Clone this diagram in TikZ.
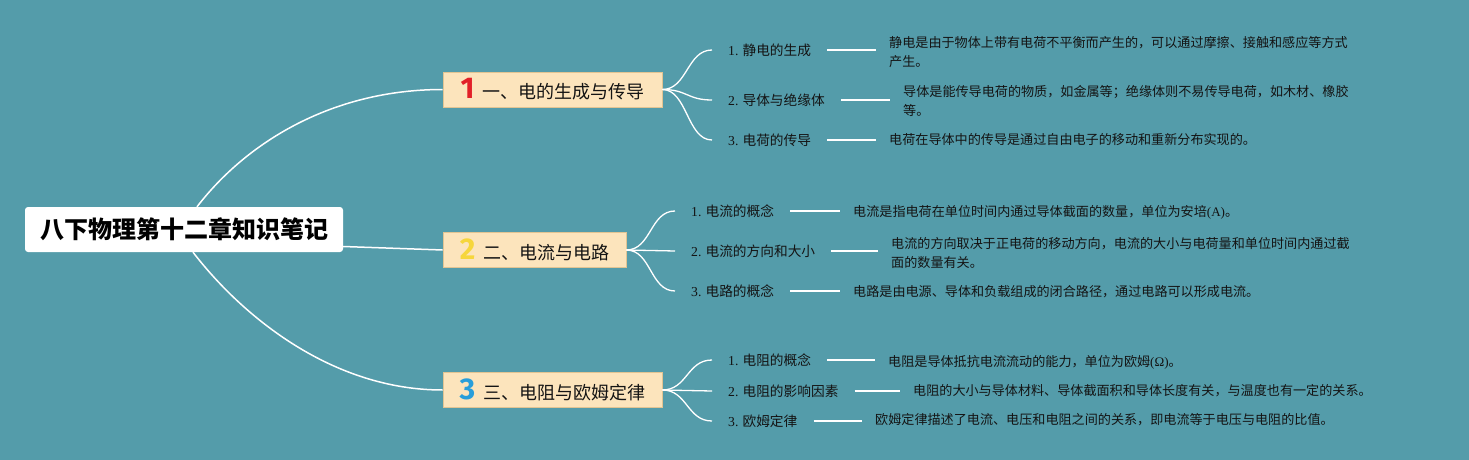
\documentclass[tikz,border=0pt]{standalone}
\usepackage{fontspec}
\setmainfont{Noto Sans CJK SC}
\newfontfamily\lat{Liberation Serif}
\newfontfamily\numf{Fira Sans}
\usetikzlibrary{calc}
\definecolor{bgc}{RGB}{84,156,170}
\definecolor{peach}{RGB}{252,228,188}
\definecolor{peachdk}{RGB}{226,196,146}
\definecolor{nred}{RGB}{226,32,40}
\definecolor{nyel}{RGB}{246,214,60}
\definecolor{nblu}{RGB}{40,158,218}
\definecolor{txt}{RGB}{20,20,20}
\begin{document}
\begin{tikzpicture}[x=1pt,y=-1pt,
  rootbox/.style={fill=white, rounded corners=3pt, minimum width=318pt, minimum height=45pt, inner sep=0pt,
    font=\fontsize{24}{28}\selectfont\bfseries, text=black},
  branchbox/.style={fill=peach, draw=peachdk, line width=0.6pt, minimum height=35pt, inner sep=0pt,
    font=\fontsize{18}{22}\selectfont, text=txt},
  lab/.style={anchor=west, inner sep=0pt, font=\fontsize{13.7}{19}\selectfont, text=txt},
  det/.style={anchor=west, inner sep=0pt, align=left, font=\fontsize{13.1}{19}\selectfont, text=txt},
  link/.style={draw=white, line width=1.5pt},
  sublink/.style={draw=white, line width=1.3pt}
]
\fill[bgc] (0,0) rectangle (1469,460);
\useasboundingbox (0,0) rectangle (1469,460);

\newcommand{\bnum}[2]{{\fontsize{30}{30}\selectfont\numf\bfseries\color{#1}#2}\hspace{8pt}}

\node[rootbox] (root) at (184,229.5) {八下物理第十二章知识笔记};

\node[branchbox, minimum width=219pt] (b1) at (552.5,89.5) {\bnum{nred}{1}一、电的生成与传导};
\node[branchbox, minimum width=183pt] (b2) at (534.5,250) {\bnum{nyel}{2}二、电流与电路};
\node[branchbox, minimum width=219pt] (b3) at (552.5,390) {\bnum{nblu}{3}三、电阻与欧姆定律};

\draw[link] ([xshift=13pt]root.north) .. controls +(50,-65) and +(-110,0) .. (b1.west);
\draw[link] ([yshift=-17pt]root.east) -- (b2.west);
\draw[link] ([xshift=9pt]root.south) .. controls +(50,65) and +(-110,0) .. (b3.west);

% branch 1
\node[lab] (l11) at (728,50) {{\lat 1.} 静电的生成};
\node[lab] (l12) at (728,100) {{\lat 2.} 导体与绝缘体};
\node[lab] (l13) at (728,140) {{\lat 3.} 电荷的传导};
\node[det] (d11) at (889,52.5) {静电是由于物体上带有电荷不平衡而产生的，可以通过摩擦、接触和感应等方式\\产生。};
\node[det] (d12) at (903,100.5) {导体是能传导电荷的物质，如金属等；绝缘体则不易传导电荷，如木材、橡胶\\等。};
\node[det] (d13) at (889,140) {电荷在导体中的传导是通过自由电子的移动和重新分布实现的。};

% branch 2
\node[lab] (l21) at (691,211) {{\lat 1.} 电流的概念};
\node[lab] (l22) at (691,251) {{\lat 2.} 电流的方向和大小};
\node[lab] (l23) at (691,291) {{\lat 3.} 电路的概念};
\node[det] (d21) at (853,212) {电流是指电荷在单位时间内通过导体截面的数量，单位为安培{\lat (A)}。};
\node[det] (d22) at (891,253) {电流的方向取决于正电荷的移动方向，电流的大小与电荷量和单位时间内通过截\\面的数量有关。};
\node[det] (d23) at (853,292) {电路是由电源、导体和负载组成的闭合路径，通过电路可以形成电流。};

% branch 3
\node[lab] (l31) at (728,360) {{\lat 1.} 电阻的概念};
\node[lab] (l32) at (728,391) {{\lat 2.} 电阻的影响因素};
\node[lab] (l33) at (728,421) {{\lat 3.} 欧姆定律};
\node[det] (d31) at (888,362) {电阻是导体抵抗电流流动的能力，单位为欧姆{\lat (Ω)}。};
\node[det] (d32) at (913,391) {电阻的大小与导体材料、导体截面积和导体长度有关，与温度也有一定的关系。};
\node[det] (d33) at (875,420) {欧姆定律描述了电流、电压和电阻之间的关系，即电流等于电压与电阻的比值。};

% sub curves
\foreach \b/\l in {b1/l11,b1/l12,b1/l13,b2/l21,b2/l22,b2/l23,b3/l31,b3/l32,b3/l33}{
  \draw[sublink] (\b.east) .. controls +(25,0) and +(-25,0) .. ($(\l.west)+(-16,0)$);
}
% label to detail lines
\foreach \l/\d in {l11/d11,l12/d12,l13/d13,l21/d21,l22/d22,l23/d23,l31/d31,l32/d32,l33/d33}{
  \draw[sublink] ($(\l.east)+(16,0)$) -- ($(\d.west |- \l.east)+(-13,0)$);
}
\end{tikzpicture}
\end{document}
